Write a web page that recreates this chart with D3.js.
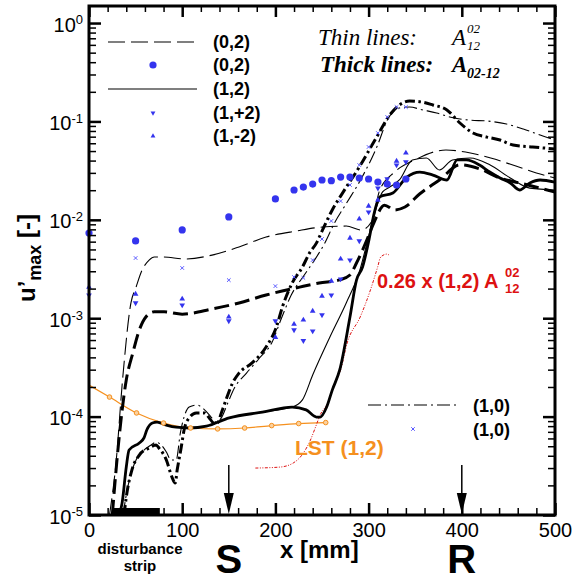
<!DOCTYPE html>
<html>
<head>
<meta charset="UTF-8">
<script src="https://cdn.jsdelivr.net/npm/d3@7"></script>
<style>
  body { margin: 0; background: #fff; }
</style>
</head>
<body>
<svg id="chart" width="582" height="581"></svg>
<script>
// ---- data (x in mm, u'max in [-]) ----
const xTicks = [0, 100, 200, 300, 400, 500];
const yTicks = [1e-5, 1e-4, 1e-3, 1e-2, 1e-1, 1];

const thin02X = [22, 29, 36, 45, 50.5, 57, 64.5, 70, 78.5, 104, 132, 161, 190, 222.5, 250.5, 276, 292, 303, 312, 328, 349.5, 383, 404, 431, 458, 480, 500];
const thin02Y = [1e-5, 3.4e-5, 2.36e-4, 1.43e-3, 2.07e-3, 3.09e-3, 3.9e-3, 4.19e-3, 4.19e-3, 4.0e-3, 4.38e-3, 5.3e-3, 6.68e-3, 7.69e-3, 8.45e-3, 8.64e-3, 7.87e-3, 9.5e-3, 0.0201, 0.0306, 0.0406, 0.0512, 0.0489, 0.0425, 0.0352, 0.0299, 0.0266];

const thick02X = [25, 31, 40, 47, 54, 61, 70, 80.6, 100, 132, 161, 190, 226, 247, 269, 280, 287, 293.5, 299, 306, 317, 328, 339, 355, 376, 398, 419, 441, 462, 484, 500];
const thick02Y = [1e-5, 4.57e-5, 2.36e-4, 4.43e-4, 7.6e-4, 1.03e-3, 1.16e-3, 1.16e-3, 1.10e-3, 1.24e-3, 1.43e-3, 1.72e-3, 2.07e-3, 2.28e-3, 2.45e-3, 2.75e-3, 3.64e-3, 4.93e-3, 6.53e-3, 9.5e-3, 0.0141, 0.0126, 0.0135, 0.0184, 0.0254, 0.0362, 0.033, 0.0266, 0.0237, 0.021, 0.0192];

const thin12X = [32, 35.5, 40, 43, 54, 59, 62, 68, 73, 83, 93.5, 107.5, 126, 150.5, 186, 218, 229, 240, 258, 276, 290, 301, 308.6, 315, 322.6, 333, 347, 362, 376, 390, 409, 430, 452, 473, 500];
const thin12Y = [1e-5, 1.32e-5, 3.08e-5, 4.58e-5, 5.4e-5, 6.07e-5, 7.3e-5, 8.6e-5, 8.8e-5, 8.2e-5, 7.8e-5, 7.66e-5, 8.0e-5, 9.7e-5, 1.11e-4, 1.25e-4, 1.48e-4, 2.65e-4, 6.3e-4, 1.43e-3, 2.95e-3, 7.35e-3, 0.0135, 0.0192, 0.0215, 0.0254, 0.0406, 0.0425, 0.0321, 0.0406, 0.0425, 0.0362, 0.0266, 0.021, 0.0201];

const thick12X = [32, 35.5, 40, 43, 54, 59, 62, 68, 73, 83, 93.5, 107.5, 126, 150.5, 186, 218, 233, 244, 248, 255, 261, 269, 280, 287, 293.5, 301, 306, 312, 326, 341, 355, 369, 384, 395, 405, 419, 430, 441, 452, 462, 473, 484, 500];
const thick12Y = [1e-5, 1.32e-5, 3.08e-5, 4.58e-5, 5.4e-5, 6.07e-5, 7.3e-5, 8.6e-5, 8.8e-5, 8.2e-5, 7.8e-5, 7.66e-5, 8.0e-5, 9.7e-5, 1.11e-4, 1.25e-4, 1.17e-4, 9.9e-5, 9.9e-5, 1.25e-4, 1.86e-4, 2.98e-4, 1.03e-3, 2.44e-3, 3.31e-3, 6.68e-3, 0.0117, 0.0171, 0.0187, 0.0272, 0.0306, 0.0285, 0.0254, 0.0406, 0.0406, 0.036, 0.0306, 0.0266, 0.0237, 0.0201, 0.0237, 0.0254, 0.0242];

const thin10X = [36.5, 41, 50.5, 57, 66.7, 72, 77.4, 83, 88, 93.5, 98, 102, 107.5, 116, 124, 131, 136.6, 142, 148, 156, 169, 183, 196, 206.5, 217, 231, 242, 253, 263.4, 275, 292.5, 309.7, 320, 333, 344, 358, 373, 387, 409, 427, 448, 466, 487, 500];
const thin10Y = [1e-5, 1.8e-5, 3.62e-5, 4.37e-5, 5.15e-5, 5.5e-5, 5.15e-5, 4.37e-5, 3.62e-5, 3.62e-5, 6.8e-5, 9.9e-5, 1.25e-4, 1.31e-4, 1.17e-4, 9.9e-5, 8.8e-5, 9.7e-5, 1.31e-4, 1.95e-4, 2.77e-4, 3.94e-4, 5.6e-4, 1.0e-3, 1.72e-3, 2.75e-3, 3.9e-3, 5.8e-3, 9.3e-3, 0.0141, 0.0266, 0.0576, 0.103, 0.137, 0.14, 0.131, 0.122, 0.111, 0.103, 0.101, 0.094, 0.0838, 0.0711, 0.0647];

const thick10X = [37.6, 40, 46, 54, 64.5, 72, 75, 83, 89, 92.5, 94.6, 99, 102, 107.5, 115, 124, 129, 134, 137.6, 142, 147, 154, 161, 175, 190, 201, 207.5, 218, 229, 236.6, 244, 250.5, 261, 272, 290, 308.6, 322.6, 333, 344, 358, 369, 384, 398, 412, 427, 441, 455, 476, 500];
const thick10Y = [1e-5, 1.52e-5, 2.86e-5, 4.07e-5, 4.8e-5, 5.15e-5, 4.8e-5, 3.62e-5, 2.43e-5, 2.11e-5, 2.86e-5, 4.9e-5, 7.3e-5, 9.7e-5, 1.09e-4, 1.09e-4, 9.7e-5, 8.6e-5, 8.6e-5, 1.09e-4, 1.48e-4, 2.19e-4, 2.77e-4, 3.51e-4, 5.1e-4, 8.1e-4, 1.30e-3, 2.28e-3, 3.31e-3, 4.6e-3, 5.8e-3, 7.87e-3, 0.0126, 0.0187, 0.0344, 0.0693, 0.116, 0.147, 0.161, 0.157, 0.147, 0.131, 0.0964, 0.0762, 0.0693, 0.0647, 0.0576, 0.055, 0.0525];

const redX = [178.5, 205, 219, 230, 237.6, 243, 248, 256, 262, 270, 277, 291, 302, 309.7, 313, 320, 322.6];
const redY = [3.0e-5, 3.07e-5, 3.37e-5, 4.26e-5, 5.78e-5, 7.8e-5, 1.04e-4, 1.37e-4, 2.0e-4, 2.98e-4, 5.6e-4, 1.03e-3, 1.94e-3, 3.31e-3, 4.19e-3, 4.49e-3, 4.3e-3];

const lstX = [0, 22, 51, 80, 109, 138, 167, 196, 225, 254];
const lstY = [2.09e-4, 1.58e-4, 1.09e-4, 8.6e-5, 7.66e-5, 7.5e-5, 7.66e-5, 8.1e-5, 8.5e-5, 8.7e-5];

const dotX = [0, 50, 100, 150, 200, 220, 230, 240, 250, 260, 270, 280, 290, 300, 310, 320, 330, 340];
const dotY = [0.00735, 0.0061, 0.0079, 0.0107, 0.0163, 0.0201, 0.0215, 0.0231, 0.0254, 0.025, 0.0272, 0.0272, 0.0266, 0.026, 0.0242, 0.0231, 0.0226, 0.026];

const crossX = [50, 100, 150, 200, 220, 230, 240, 250, 260, 270, 280, 290, 300, 310, 320, 330, 340];
const crossY = [0.00409, 0.00324, 0.00244, 0.00212, 0.00262, 0.00257, 0.0039, 0.00638, 0.00973, 0.0155, 0.0226, 0.036, 0.055, 0.0762, 0.111, 0.14, 0.14];

const triX = [0, 50, 100, 150, 200, 220, 230, 240, 250, 260, 270, 280, 290, 300, 310, 320, 330, 340];
const triDownY = [0.00172, 0.00143, 0.00136, 0.00094, 0.00094, 0.00076, 0.00059, 0.00074, 0.00108, 0.00172, 0.0025, 0.0039, 0.0061, 0.012, 0.021, 0.026, 0.036, 0.0387];
const triUpY = [0.00207, 0.00176, 0.00157, 0.00103, 0.00064, 0.00087, 0.00096, 0.00118, 0.00168, 0.00239, 0.004, 0.00653, 0.0102, 0.0138, 0.0159, 0.0226, 0.0396, 0.0478];

const stripRange = [25, 76];
const markS = 150, markR = 400;
const legendLabels = ["(0,2)", "(0,2)", "(1,2)", "(1,+2)", "(1,-2)"];

// ---- layout ----
const svg = d3.select("#chart");
const margin = { top: 6, right: 27, bottom: 66, left: 89 };
const plotW = 582 - margin.left - margin.right;
const plotH = 581 - margin.top - margin.bottom;
const BLUE = "#3434ee";
const ORANGE = "#f5901e";
const RED = "#dd1111";
const SANS = "'Liberation Sans', Arial, sans-serif";
const SERIF = "'Liberation Serif', 'Times New Roman', serif";

const x = d3.scaleLinear([0, 500], [0, plotW]);
const y = d3.scaleLog([1e-5, 1.49], [plotH, 0]);

const plot = svg.append("g").attr("transform", `translate(${margin.left},${margin.top})`);
plot.append("clipPath").attr("id", "clip").append("rect").attr("width", plotW).attr("height", plotH);

const zip = (a, b) => a.map((v, i) => [v, b[i]]);
const line = d3.line().x(d => x(d[0])).y(d => y(d[1])).curve(d3.curveMonotoneX);

// disturbance strip
plot.append("rect")
    .attr("x", x(stripRange[0])).attr("width", x(stripRange[1]) - x(stripRange[0]))
    .attr("y", plotH - 7).attr("height", 7).attr("fill", "#000");

// curves
const curves = [
  { xs: lstX, ys: lstY, w: 1.2, dash: null, c: ORANGE },
  { xs: redX, ys: redY, w: 1, dash: "3,1.5,1,1.5,1,1.5", c: RED },
  { xs: thin02X, ys: thin02Y, w: 1.1, dash: "17,6", c: "#000" },
  { xs: thick02X, ys: thick02Y, w: 3, dash: "15,6", c: "#000" },
  { xs: thin12X, ys: thin12Y, w: 1.1, dash: null, c: "#000" },
  { xs: thick12X, ys: thick12Y, w: 2.8, dash: null, c: "#000" },
  { xs: thin10X, ys: thin10Y, w: 1.1, dash: "13,4,2,4", c: "#000" },
  { xs: thick10X, ys: thick10Y, w: 3, dash: "10,3.5,2.5,3.5", c: "#000" }
];
plot.append("g").attr("clip-path", "url(#clip)")
  .selectAll("path").data(curves).join("path")
    .attr("d", d => line(zip(d.xs, d.ys)))
    .attr("fill", "none")
    .attr("stroke", d => d.c)
    .attr("stroke-width", d => d.w)
    .attr("stroke-dasharray", d => d.dash);

// LST markers
plot.selectAll("circle.lst").data(zip(lstX, lstY).slice(1)).join("circle")
    .attr("class", "lst")
    .attr("cx", d => x(d[0])).attr("cy", d => y(d[1])).attr("r", 2.3)
    .attr("fill", "#fbd2a0").attr("stroke", ORANGE).attr("stroke-width", 1);

// blue symbols
const triUp = d3.symbol(d3.symbolTriangle, 14);
plot.selectAll("path.tup").data(zip(triX, triUpY)).join("path")
    .attr("class", "tup").attr("d", triUp)
    .attr("transform", d => `translate(${x(d[0])},${y(d[1])})`)
    .attr("fill", BLUE);
plot.selectAll("path.tdn").data(zip(triX, triDownY)).join("path")
    .attr("class", "tdn").attr("d", triUp)
    .attr("transform", d => `translate(${x(d[0])},${y(d[1])}) rotate(180)`)
    .attr("fill", BLUE);
plot.selectAll("path.cross").data(zip(crossX, crossY)).join("path")
    .attr("class", "cross").attr("d", d3.symbol(d3.symbolTimes, 10))
    .attr("transform", d => `translate(${x(d[0])},${y(d[1])})`)
    .attr("fill", "none").attr("stroke", "#5a5aff").attr("stroke-width", 1);
plot.selectAll("circle.dot").data(zip(dotX, dotY)).join("circle")
    .attr("class", "dot")
    .attr("cx", d => x(d[0])).attr("cy", d => y(d[1])).attr("r", 3.6)
    .attr("fill", BLUE);

// ---- axes ----
const minorY = [];
for (let e = -5; e < 0; e++) for (let m = 2; m <= 9; m++) minorY.push(m * Math.pow(10, e));
const minorX = d3.range(20, 500, 20).filter(v => v % 100 !== 0);

function styleAxis(g, w) {
  g.select(".domain").remove();
  g.selectAll(".tick line").attr("stroke", "#000").attr("stroke-width", w);
}

plot.append("g")
    .call(d3.axisLeft(y).tickValues(yTicks).tickSizeInner(-12).tickSizeOuter(0).tickPadding(6).tickFormat(() => "10"))
    .call(g => styleAxis(g, 2.5))
    .call(g => g.selectAll(".tick text")
        .style("font-family", SANS).attr("font-size", 20).attr("fill", "#000").attr("dy", "0.4em")
        .append("tspan").attr("dy", "-0.55em").attr("font-size", 13).text(d => Math.round(Math.log10(d))));
plot.append("g")
    .call(d3.axisLeft(y).tickValues(minorY).tickSizeInner(-7).tickSizeOuter(0).tickFormat(""))
    .call(g => styleAxis(g, 1.5));
plot.append("g").attr("transform", `translate(${plotW},0)`)
    .call(d3.axisRight(y).tickValues(yTicks).tickSizeInner(-12).tickSizeOuter(0).tickFormat(""))
    .call(g => styleAxis(g, 2.5));
plot.append("g").attr("transform", `translate(${plotW},0)`)
    .call(d3.axisRight(y).tickValues(minorY).tickSizeInner(-7).tickSizeOuter(0).tickFormat(""))
    .call(g => styleAxis(g, 1.5));

plot.append("g").attr("transform", `translate(0,${plotH})`)
    .call(d3.axisBottom(x).tickValues(xTicks).tickSizeInner(-12).tickSizeOuter(0).tickPadding(8).tickFormat(d3.format("d")))
    .call(g => styleAxis(g, 2.5))
    .call(g => g.selectAll(".tick text")
        .style("font-family", SANS).attr("font-size", 20).attr("fill", "#000"));
plot.append("g").attr("transform", `translate(0,${plotH})`)
    .call(d3.axisBottom(x).tickValues(minorX).tickSizeInner(-7).tickSizeOuter(0).tickFormat(""))
    .call(g => styleAxis(g, 1.5));
plot.append("g")
    .call(d3.axisTop(x).tickValues(xTicks).tickSizeInner(-11).tickSizeOuter(0).tickFormat(""))
    .call(g => styleAxis(g, 2.5));
plot.append("g")
    .call(d3.axisTop(x).tickValues(minorX).tickSizeInner(-6).tickSizeOuter(0).tickFormat(""))
    .call(g => styleAxis(g, 1.5));

// frame
plot.append("rect").attr("width", plotW).attr("height", plotH)
    .attr("fill", "none").attr("stroke", "#000").attr("stroke-width", 3);

// S / R arrows
[markS, markR].forEach(v => {
  const ax = x(v);
  plot.append("line").attr("x1", ax).attr("x2", ax).attr("y1", plotH - 50).attr("y2", plotH - 18)
      .attr("stroke", "#000").attr("stroke-width", 1.5);
  plot.append("path")
      .attr("d", `M${ax - 5},${plotH - 22} L${ax + 5},${plotH - 22} L${ax},${plotH - 1} Z`)
      .attr("fill", "#000");
});

// ---- texts ----
const T = (px, py, str, size, opts = {}) => svg.append("text")
    .attr("x", px).attr("y", py).attr("font-size", size)
    .attr("font-weight", opts.bold ? "bold" : null)
    .attr("font-style", opts.italic ? "italic" : null)
    .style("font-family", opts.serif ? SERIF : SANS)
    .attr("text-anchor", opts.anchor || "start")
    .attr("fill", opts.color || "#000")
    .text(str);

const absX = v => margin.left + x(v);
T(absX(markS), 573, "S", 40, { bold: true, anchor: "middle" });
T(absX(markR), 573, "R", 40, { bold: true, anchor: "middle" });
T(280, 558, "x [mm]", 24, { bold: true });
T(140, 554, "disturbance", 15, { bold: true, anchor: "middle" });
T(140, 571, "strip", 15, { bold: true, anchor: "middle" });

// y label
const yl = svg.append("text").attr("transform", "translate(35,258) rotate(-90)")
    .attr("text-anchor", "middle").attr("font-size", 24).attr("font-weight", "bold")
    .style("font-family", SANS);
yl.append("tspan").text("u’");
yl.append("tspan").attr("font-size", 18).attr("dy", 6).text("max");
yl.append("tspan").attr("dy", -6).text(" [-]");

// top-left legend
const rowY = [42, 65, 89, 113, 136];
const lg = svg.append("g");
lg.append("line").attr("x1", 108).attr("x2", 197).attr("y1", rowY[0]).attr("y2", rowY[0])
    .attr("stroke", "#000").attr("stroke-width", 1.1).attr("stroke-dasharray", "17,6");
lg.append("circle").attr("cx", 153).attr("cy", rowY[1]).attr("r", 3.6).attr("fill", BLUE);
lg.append("line").attr("x1", 108).attr("x2", 197).attr("y1", rowY[2]).attr("y2", rowY[2])
    .attr("stroke", "#000").attr("stroke-width", 1.1);
lg.append("path").attr("d", d3.symbol(d3.symbolTriangle, 10))
    .attr("transform", `translate(153,${rowY[3]}) rotate(180)`).attr("fill", BLUE);
lg.append("path").attr("d", d3.symbol(d3.symbolTriangle, 10))
    .attr("transform", `translate(153,${rowY[4]})`).attr("fill", BLUE);
legendLabels.forEach((s, i) => T(213, rowY[i] + 6, s, 18, { bold: true }));

// bottom-right legend
svg.append("line").attr("x1", 368).attr("x2", 458).attr("y1", 405).attr("y2", 405)
    .attr("stroke", "#000").attr("stroke-width", 1.1).attr("stroke-dasharray", "13,4,2,4");
svg.append("path").attr("d", d3.symbol(d3.symbolTimes, 10)).attr("transform", "translate(413,429)")
    .attr("fill", "none").attr("stroke", "#5a5aff").attr("stroke-width", 1);
T(473, 412, "(1,0)", 18, { bold: true });
T(473, 436, "(1,0)", 18, { bold: true });

// top-right note
T(318, 45, "Thin lines:", 23, { italic: true, serif: true });
T(452, 45, "A", 23, { italic: true, serif: true });
T(467, 33, "02", 13, { italic: true, serif: true });
T(467, 50, "12", 13, { italic: true, serif: true });
T(320, 72, "Thick lines:", 23, { italic: true, serif: true, bold: true });
T(452, 72, "A", 23, { italic: true, serif: true, bold: true });
T(467, 78, "02-12", 14, { italic: true, serif: true, bold: true });

// annotations
T(377, 288, "0.26 x (1,2) A", 20, { bold: true, color: RED });
T(505, 277, "02", 13, { bold: true, color: RED });
T(505, 293, "12", 13, { bold: true, color: RED });
T(295, 455, "LST (1,2)", 21, { bold: true, color: ORANGE });
</script>
</body>
</html>
